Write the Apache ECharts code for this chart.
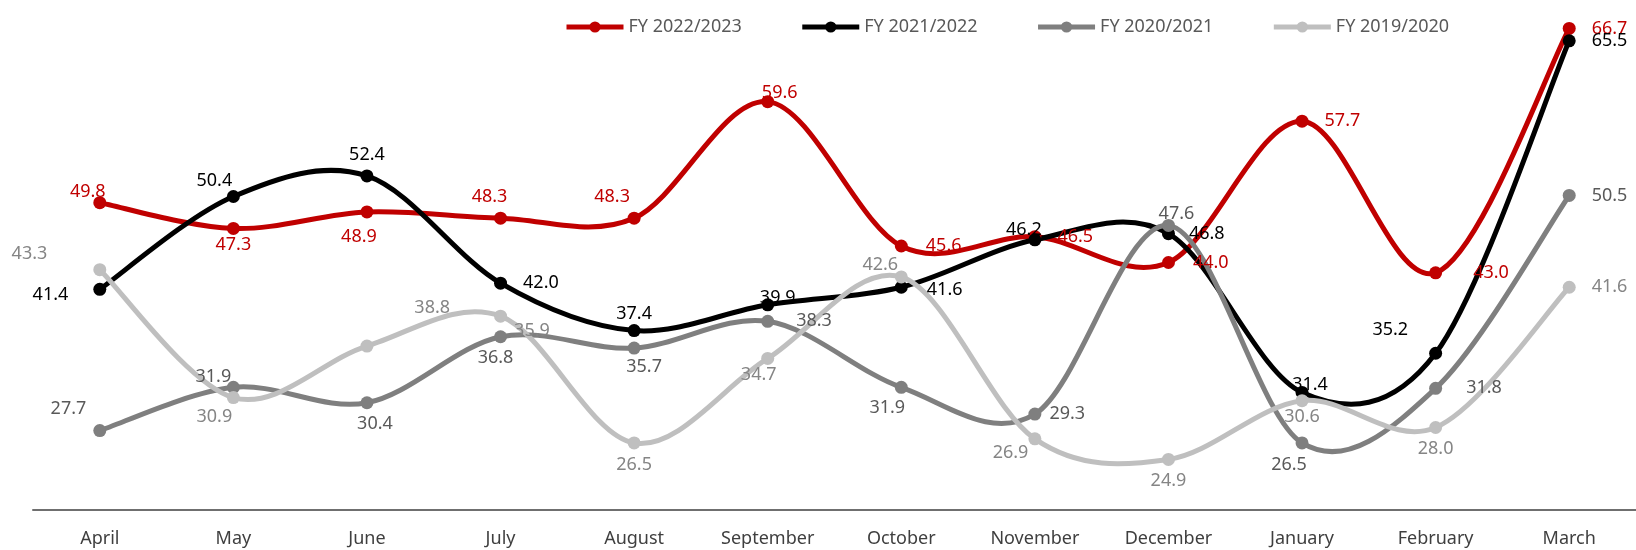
<!DOCTYPE html>
<html>
<head>
<meta charset="utf-8">
<script src="https://cdn.jsdelivr.net/npm/echarts@6/dist/echarts.min.js"></script>
<style>
  html, body { margin: 0; padding: 0; background: #fff; }
  #chartDiv { width: 1636px; height: 550px; }
</style>
</head>
<body>
<div id="chartDiv"></div>
<script>
// 数据
let months = ['April', 'May', 'June', 'July', 'August', 'September',
    'October', 'November', 'December', 'January', 'February', 'March'];
let seriesNames = ['FY 2022/2023', 'FY 2021/2022', 'FY 2020/2021', 'FY 2019/2020'];
let fy2223 = [49.8, 47.3, 48.9, 48.3, 48.3, 59.6, 45.6, 46.5, 44.0, 57.7, 43.0, 66.7];
let fy2122 = [41.4, 50.4, 52.4, 42.0, 37.4, 39.9, 41.6, 46.2, 46.8, 31.4, 35.2, 65.5];
let fy2021 = [27.7, 31.9, 30.4, 36.8, 35.7, 38.3, 31.9, 29.3, 47.6, 26.5, 31.8, 50.5];
let fy1920 = [43.3, 30.9, 35.9, 38.8, 26.5, 34.7, 42.6, 26.9, 24.9, 30.6, 28.0, 41.6];

// 标签位置
function p(position, dx, dy) {
    return {position: position, offset: [dx || 0, dy || 0]};
}
let place2223 = [p('top', -12, 11), p('bottom', 0, -5), p('bottom', -8, 3), p('top', -11), p('top', -22), p('top', 12, 13),
    p('right', 12), p('right', 10), p('right', 12), p('right', 10), p('right', 25), p('right', 10)];
let place2122 = [p('left', -19, 6), p('top', -19, 6), p('top'), p('right', 10), p('top', 0, 5), p('top', 10, 15),
    p('right', 13, 3), p('top', -11, 12), p('right', 8), p('top', 8, 14), p('left', -15, -23), p('right', 10)];
let place2021 = [p('left', -1, -22), p('top', -20, 11), p('bottom', 8), p('bottom', -5), p('bottom', 10, -3), p('right', 16),
    p('bottom', -14, -1), p('right', 2), p('top', 8, 10), p('bottom', -13), p('right', 18), p('right', 10)];
let place1920 = [p('left', -40, -16), p('bottom', -19, -2), p('top', 165, 6), p('left', -38, -8), p('bottom'), p('bottom', -9, -5),
    p('top', -21, 9), p('left', 6, 14), p('bottom'), p('bottom', 0, -5), p('bottom'), p('right', 10)];

let lineColors = ['#c00000', '#000000', '#7f7f7f', '#bfbfbf'];
let labelColors = ['#c00000', '#000000', '#595959', '#858585'];
let values = [fy2223, fy2122, fy2021, fy1920];
let places = [place2223, place2122, place2021, place1920];

let myChart = echarts.init(document.getElementById('chartDiv'));

// 平滑曲线（类似 Excel 的平滑线）
function curveRenderer(vals, color) {
    return function (params, api) {
        let i = params.dataIndex;
        let n = vals.length;
        if (i >= n - 1) return null;
        let p1 = api.coord([i, vals[i]]);
        let p2 = api.coord([i + 1, vals[i + 1]]);
        let p0 = i > 0 ? api.coord([i - 1, vals[i - 1]]) : p1;
        let p3 = i + 2 < n ? api.coord([i + 2, vals[i + 2]]) : p2;
        return {
            type: 'bezierCurve',
            shape: {
                x1: p1[0], y1: p1[1],
                x2: p2[0], y2: p2[1],
                cpx1: p1[0] + (p2[0] - p0[0]) / 6,
                cpy1: p1[1] + (p2[1] - p0[1]) / 6,
                cpx2: p2[0] - (p3[0] - p1[0]) / 6,
                cpy2: p2[1] - (p3[1] - p1[1]) / 6
            },
            style: {stroke: color, lineWidth: 5, fill: null, lineCap: 'round'}
        };
    };
}

let series = [];
for (let i = 0; i < values.length; i++) {
    series.push({
        name: seriesNames[i],
        type: 'line',
        z: 3,
        symbol: 'circle',
        symbolSize: 13,
        lineStyle: {color: lineColors[i], width: 0},
        itemStyle: {color: lineColors[i]},
        label: {
            show: true,
            color: labelColors[i],
            fontFamily: 'Noto Sans',
            fontSize: 18,
            distance: 6,
            formatter: function (d) { return d.value.toFixed(1); }
        },
        data: values[i].map(function (v, k) {
            return {value: v, label: places[i][k]};
        })
    });
}
for (let i = 0; i < values.length; i++) {
    series.push({
        name: 'curve' + i,
        type: 'custom',
        z: 2,
        renderItem: curveRenderer(values[i], lineColors[i]),
        data: values[i].map(function (v, k) { return [k, v]; }),
        encode: {x: 0, y: 1},
        silent: true
    });
}

let option = {
    backgroundColor: '#ffffff',
    animation: false,
    textStyle: {fontFamily: 'Noto Sans'},
    legend: {
        data: seriesNames,
        left: 559,
        top: 13,
        itemWidth: 57,
        itemHeight: 14,
        itemGap: 58,
        lineStyle: {width: 5, opacity: 1},
        textStyle: {color: '#595959', fontSize: 18, fontFamily: 'Noto Sans'}
    },
    grid: {left: 33, width: 1605, top: 15, bottom: 40},
    xAxis: {
        type: 'category',
        data: months,
        boundaryGap: true,
        axisTick: {show: false},
        axisLine: {lineStyle: {color: '#6f6f6f', width: 2}},
        axisLabel: {color: '#3f3f3f', fontSize: 18, fontFamily: 'Noto Sans', margin: 20}
    },
    yAxis: {
        type: 'value',
        min: 20,
        max: 68,
        show: false,
        splitLine: {show: false}
    },
    series: series
};
myChart.setOption(option);
</script>
</body>
</html>
